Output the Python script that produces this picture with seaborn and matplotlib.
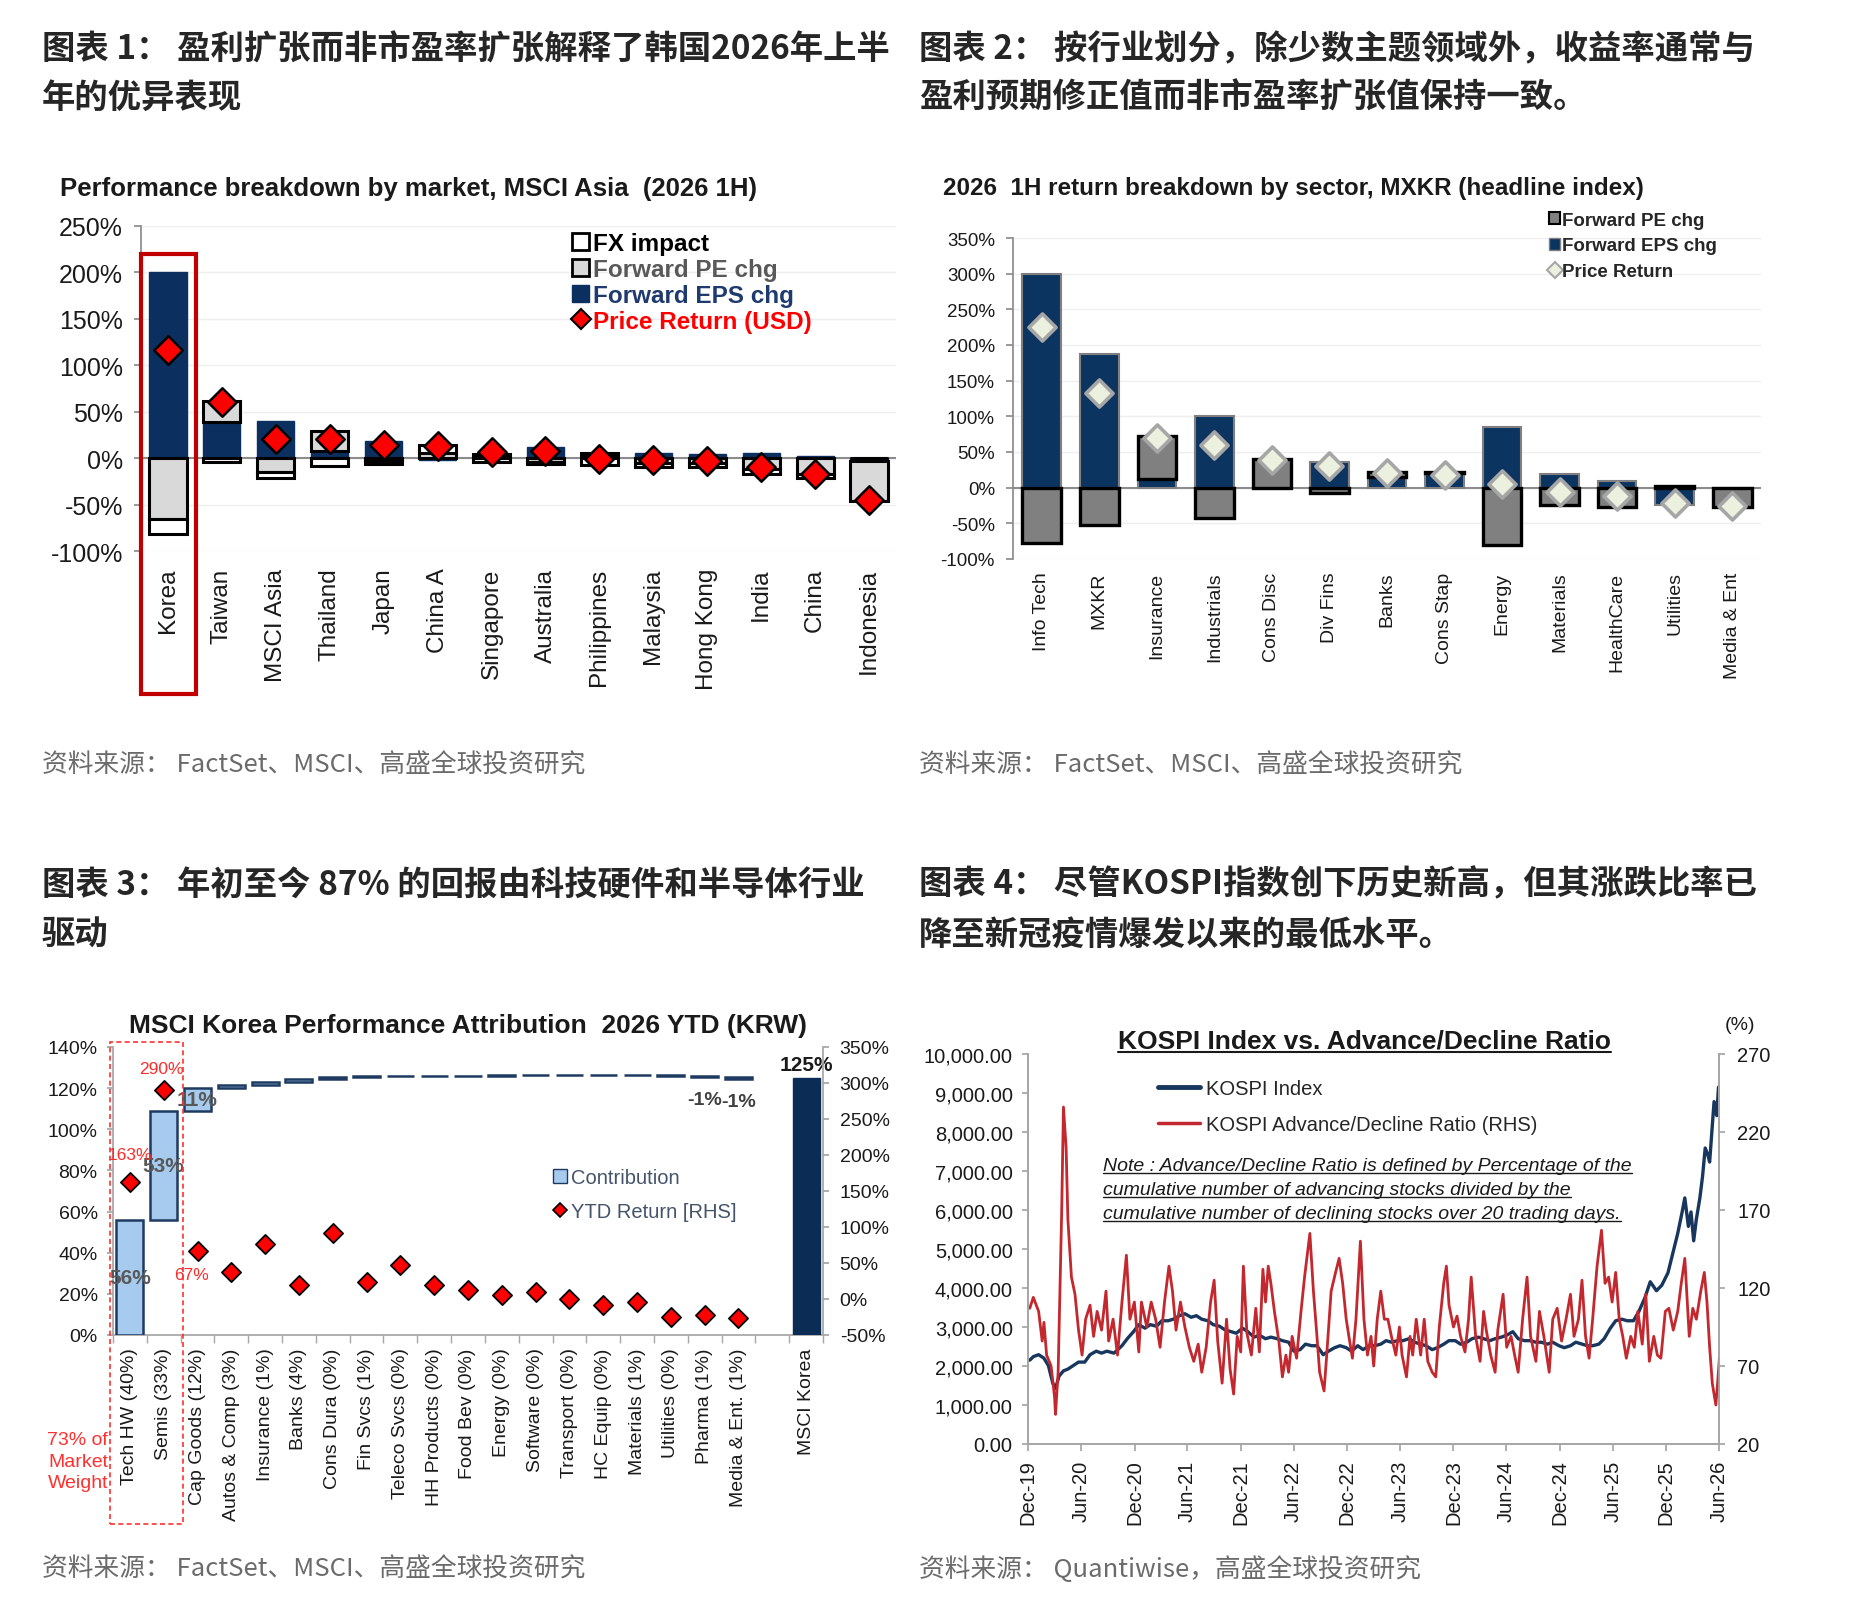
import numpy as np
import pandas as pd
import matplotlib
matplotlib.use('Agg')
import matplotlib.pyplot as plt
import matplotlib.dates as mdates
from matplotlib.patches import Rectangle, Patch
from matplotlib.lines import Line2D
import seaborn as sns

# ---------- chart 1: MSCI Asia, performance breakdown by market ----------
markets = ['Korea', 'Taiwan', 'MSCI Asia', 'Thailand', 'Japan', 'China A', 'Singapore',
           'Australia', 'Philippines', 'Malaysia', 'Hong Kong', 'India', 'China', 'Indonesia']
mkt_eps = [200, 39, 40, 8, 19, -2, 3, 12, 3, 6, 4, 6, 2, -3]
mkt_pe = [-65, 23, -15, 21, -3, 6, 2, -4, 3, -5, -5, -12, -17, -43]
mkt_fx = [-17, -4, -6, -8, -3, 8, -4, -2, -7, -4, -4, -5, -4, 0]
mkt_price = [116, 61, 21, 21, 14, 13, 7, 8, -1, -2, -3, -10, -17, -45]

# ---------- chart 2: MXKR return breakdown by sector ----------
sectors = ['Info Tech', 'MXKR', 'Insurance', 'Industrials', 'Cons Disc', 'Div Fins', 'Banks',
           'Cons Stap', 'Energy', 'Materials', 'HealthCare', 'Utilities', 'Media & Ent']
sec_eps = [300, 187, 12, 101, -2, 36, 15, 20, 85, 19, 10, -24, 0]
sec_pe = [-78, -52, 60, -43, 40, -8, 7, 2, -80, -24, -27, 3, -27]
sec_price = [225, 133, 70, 60, 39, 30, 20, 18, 5, -6, -12, -22, -26]

# ---------- chart 3: MSCI Korea attribution ----------
attr_sectors = ['Tech HW (40%)', 'Semis (33%)', 'Cap Goods (12%)', 'Autos & Comp (3%)',
                'Insurance (1%)', 'Banks (4%)', 'Cons Dura (0%)', 'Fin Svcs (1%)',
                'Teleco Svcs (0%)', 'HH Products (0%)', 'Food Bev (0%)', 'Energy (0%)',
                'Software (0%)', 'Transport (0%)', 'HC Equip (0%)', 'Materials (1%)',
                'Utilities (0%)', 'Pharma (1%)', 'Media & Ent. (1%)']
contribution = [56, 53, 11, 1.6, 1.3, 1.5, 0.9, 0.6, 0.1, 0.1, 0.0, 0.1, 0.4, 0.0, 0.0, 0.0,
                -0.6, -0.8, -0.6]
contribution_labels = ['56%', '53%', '11%', '', '', '', '', '', '', '', '', '', '', '', '', '',
                       '', '-1%', '-1%']
ytd_return = [163, 290, 67, 37, 77, 19, 91, 24, 47, 20, 13, 5, 10, 0, -8, -4, -25, -22, -27]
ytd_labels = ['163%', '290%', '67%']
msci_korea_total = 125

# ---------- chart 4: KOSPI vs advance/decline ratio (months after 31 Dec 2019) ----------
kospi_months = [0.2, 0.6, 1.2, 1.8, 2.3, 2.8, 3.1, 3.5, 4.0, 4.5, 5.1, 5.7, 6.4, 7.0, 7.7, 8.3,
                8.9, 9.7, 10.6, 11.2, 11.9, 12.5, 13.2, 13.8, 14.5, 15.1, 15.8, 16.4, 17.1, 17.7,
                18.4, 19.0, 19.6, 20.3, 20.9, 21.6, 22.2, 22.9, 23.5, 24.2, 24.8, 25.5, 26.1,
                26.8, 27.4, 28.1, 28.7, 29.4, 30.0, 30.7, 31.3, 32.0, 32.6, 33.3, 33.9, 34.6,
                35.2, 35.9, 36.5, 37.2, 37.8, 38.5, 39.1, 39.8, 40.4, 41.0, 41.7, 42.3, 43.0,
                43.6, 44.3, 44.9, 45.6, 46.2, 46.9, 47.5, 48.2, 48.8, 49.5, 50.1, 50.8, 51.4,
                52.1, 52.7, 53.4, 54.0, 54.7, 55.3, 56.0, 56.6, 57.3, 57.9, 58.6, 59.2, 59.9,
                60.5, 61.2, 61.8, 62.5, 63.1, 63.7, 64.4, 65.0, 65.7, 66.3, 67.0, 67.6, 68.3,
                68.9, 69.6, 70.2, 70.9, 71.5, 72.2, 72.8, 73.3, 73.8, 74.1, 74.5, 74.8, 75.1,
                75.4, 75.8, 76.1, 76.4, 76.7, 76.9, 77.2, 77.4, 77.7, 77.9]
kospi_index = [2150, 2240, 2290, 2200, 2010, 1555, 1420, 1740, 1875, 1920, 2010, 2100, 2100,
               2290, 2380, 2330, 2380, 2330, 2520, 2700, 2880, 3060, 2970, 3060, 3020, 3160,
               3160, 3200, 3290, 3340, 3250, 3290, 3200, 3160, 3060, 3020, 2930, 2880, 2840,
               2970, 2880, 2740, 2790, 2700, 2740, 2700, 2650, 2610, 2380, 2420, 2560, 2520,
               2520, 2290, 2380, 2470, 2520, 2470, 2380, 2520, 2420, 2520, 2520, 2560, 2650,
               2610, 2650, 2650, 2700, 2610, 2560, 2520, 2420, 2470, 2560, 2650, 2650, 2560,
               2610, 2700, 2740, 2700, 2650, 2700, 2740, 2790, 2880, 2700, 2650, 2650, 2610,
               2610, 2560, 2610, 2520, 2470, 2520, 2610, 2560, 2520, 2520, 2560, 2700, 2970,
               3160, 3200, 3160, 3160, 3390, 3750, 4160, 3930, 4070, 4390, 4940, 5400, 5950,
               6310, 5580, 5950, 5210, 5760, 6310, 6860, 7590, 7410, 7230, 8140, 8780, 8420,
               9150]
ad_months = [0.2, 0.6, 1.2, 1.6, 1.8, 2.1, 2.6, 3.0, 3.1, 3.4, 3.8, 4.0, 4.3, 4.5, 4.9, 5.3,
             5.7, 6.1, 6.5, 7.0, 7.4, 7.8, 8.3, 8.8, 9.1, 9.6, 10.1, 10.6, 11.1, 11.5, 12.0,
             12.5, 12.8, 13.4, 13.9, 14.4, 14.9, 15.4, 15.9, 16.3, 16.7, 17.2, 17.7, 18.2,
             18.7, 19.2, 19.6, 20.1, 20.6, 21.0, 21.4, 21.9, 22.4, 22.8, 23.2, 23.6, 24.0,
             24.3, 24.7, 25.2, 25.7, 26.1, 26.5, 26.8, 27.1, 27.4, 27.8, 28.3, 28.7, 29.1,
             29.4, 29.8, 30.3, 30.8, 31.2, 31.8, 32.2, 32.6, 32.9, 33.4, 33.7, 34.2, 34.7,
             35.1, 35.5, 35.9, 36.2, 36.6, 37.0, 37.5, 37.9, 38.3, 38.7, 39.0, 39.4, 39.8,
             40.2, 40.6, 41.0, 41.5, 41.9, 42.2, 42.7, 43.1, 43.4, 43.8, 44.3, 44.7, 45.1,
             45.6, 46.0, 46.4, 46.9, 47.2, 47.5, 48.0, 48.4, 48.8, 49.3, 49.7, 50.0, 50.5,
             51.0, 51.4, 51.7, 52.2, 52.7, 53.0, 53.6, 54.0, 54.5, 54.9, 55.3, 55.8, 56.3,
             56.7, 57.3, 57.7, 58.2, 58.8, 59.2, 59.7, 60.2, 60.7, 61.2, 61.6, 62.1, 62.5,
             62.9, 63.3, 63.7, 64.2, 64.7, 65.1, 65.5, 65.9, 66.3, 66.7, 67.1, 67.5, 68.0,
             68.4, 68.8, 69.3, 69.7, 70.1, 70.6, 71.0, 71.4, 71.9, 72.3, 72.8, 73.3, 73.7,
             74.1, 74.6, 75.0, 75.4, 75.9, 76.3, 76.6, 76.9, 77.2, 77.6, 77.8, 78.0]
ad_ratio = [107, 114, 105, 86, 98, 77, 70, 50, 39, 66, 169, 236, 210, 164, 127, 116, 93, 77,
            100, 109, 89, 105, 93, 118, 86, 100, 77, 111, 141, 100, 111, 79, 111, 95, 111, 100,
            82, 111, 134, 118, 93, 111, 95, 82, 73, 84, 66, 82, 111, 125, 86, 59, 100, 68, 52,
            89, 79, 134, 91, 77, 107, 79, 132, 111, 134, 123, 105, 86, 63, 77, 66, 89, 75, 105,
            127, 155, 118, 89, 66, 54, 77, 118, 130, 139, 123, 100, 89, 75, 100, 150, 100, 77,
            89, 70, 100, 118, 100, 100, 89, 77, 95, 77, 63, 89, 77, 100, 77, 100, 73, 66, 63,
            95, 123, 134, 109, 95, 102, 89, 79, 100, 127, 89, 73, 105, 93, 77, 66, 93, 116, 82,
            89, 77, 66, 100, 127, 89, 73, 105, 89, 66, 100, 107, 86, 100, 116, 89, 100, 125, 89,
            75, 100, 134, 157, 123, 127, 111, 130, 100, 89, 75, 89, 82, 105, 84, 116, 73, 89,
            77, 75, 105, 107, 93, 105, 123, 139, 89, 107, 100, 118, 130, 111, 82, 59, 45, 59,
            75]

headings = [
    (42, 50, '图表 1： 盈利扩张而非市盈率扩张解释了韩国2026年上半'),
    (42, 98, '年的优异表现'),
    (919, 50, '图表 2： 按行业划分，除少数主题领域外，收益率通常与'),
    (919, 98, '盈利预期修正值而非市盈率扩张值保持一致。'),
    (42, 885, '图表 3： 年初至今 87% 的回报由科技硬件和半导体行业'),
    (42, 935, '驱动'),
    (919, 885, '图表 4： 尽管KOSPI指数创下历史新高，但其涨跌比率已'),
    (919, 935, '降至新冠疫情爆发以来的最低水平。'),
]
sources = [
    (42, 766, '资料来源： FactSet、MSCI、高盛全球投资研究'),
    (919, 766, '资料来源： FactSet、MSCI、高盛全球投资研究'),
    (42, 1570, '资料来源： FactSet、MSCI、高盛全球投资研究'),
    (919, 1570, '资料来源： Quantiwise，高盛全球投资研究'),
]

W, H = 1876, 1608
NAVY = '#0b2f5e'
sns.set_theme(style='white')
plt.rcParams['font.family'] = ['Liberation Sans', 'Noto Sans CJK SC', 'DejaVu Sans']
plt.rcParams['axes.unicode_minus'] = False
CJK = ['Noto Sans CJK SC', 'DejaVu Sans']

fig = plt.figure(figsize=(W / 100, H / 100), dpi=100)
fig.patch.set_facecolor('white')


def fx(x):
    return x / W


def fy(y):
    return 1 - y / H


def box(l, t, r, b):
    return [l / W, 1 - b / H, (r - l) / W, (b - t) / H]


def stacked(ax, x, series, styles, width):
    pos = np.zeros(len(x))
    neg = np.zeros(len(x))
    for vals, st in zip(series, styles):
        v = np.asarray(vals, float)
        ax.bar(x, v, width, bottom=np.where(v >= 0, pos, neg), **st)
        pos = pos + np.clip(v, 0, None)
        neg = neg + np.clip(v, None, 0)


def pct(v, p):
    return f'{v:.0f}%'


for x, y, s in headings:
    fig.text(fx(x), fy(y), s, fontsize=24, fontweight='bold', family=CJK, color='#262626',
             ha='left', va='center')
for x, y, s in sources:
    fig.text(fx(x), fy(y), s, fontsize=18.5, family=CJK, color='#6b6b6b', ha='left',
             va='center')

# ---------------- chart 1 ----------------
ax1 = fig.add_axes(box(141, 227, 896, 552))
x1 = np.arange(len(markets))
stacked(ax1, x1, [mkt_eps, mkt_pe, mkt_fx],
        [dict(color=NAVY, edgecolor=NAVY, lw=1, zorder=3),
         dict(color='#d9d9d9', edgecolor='black', lw=2.2, zorder=3),
         dict(color='white', edgecolor='black', lw=2.2, zorder=3)], 0.69)
sns.scatterplot(x=x1, y=mkt_price, ax=ax1, marker='D', s=210, color='#ff0000',
                edgecolor='black', linewidth=1.8, zorder=5, legend=False)
ax1.set_xlim(-0.5, len(markets) - 0.5)
ax1.set_ylim(-100, 250)
ax1.set_yticks(range(-100, 251, 50))
ax1.yaxis.set_major_formatter(pct)
ax1.set_xticks(x1)
ax1.set_xticklabels(markets, rotation=90, fontsize=17.5, color='#1a1a1a')
ax1.tick_params(axis='x', length=0, pad=12)
ax1.tick_params(axis='y', labelsize=18, labelcolor='#1a1a1a', left=True, length=5,
                color='#8c8c8c', pad=8)
ax1.grid(axis='y', color='#efefef', lw=1)
ax1.set_axisbelow(True)
for s in ['top', 'right', 'bottom']:
    ax1.spines[s].set_visible(False)
ax1.spines['left'].set_color('#8c8c8c')
ax1.axhline(0, color='#8c8c8c', lw=1.5, zorder=2)
ax1.set_ylabel('')
fig.text(fx(60), fy(189), 'Performance breakdown by market, MSCI Asia  (2026 1H)',
         fontsize=18.5, fontweight='bold', color='#1a1a1a', ha='left', va='center')
fig.add_artist(Rectangle((fx(141), fy(695)), (196 - 141) / W, (695 - 255) / H,
                         transform=fig.transFigure, fill=False, edgecolor='#c00000', lw=3))
h1 = [Patch(facecolor='white', edgecolor='black', lw=2),
      Patch(facecolor='#d9d9d9', edgecolor='black', lw=2),
      Patch(facecolor=NAVY, edgecolor=NAVY),
      Line2D([], [], marker='D', ls='none', mfc='#ff0000', mec='black', ms=10, mew=1.5)]
leg1 = ax1.legend(h1, ['FX impact', 'Forward PE chg', 'Forward EPS chg', 'Price Return (USD)'],
                  loc='upper left', bbox_to_anchor=(fx(572), fy(233)),
                  bbox_transform=fig.transFigure, frameon=False,
                  prop={'weight': 'bold', 'size': 17.5}, handlelength=0.7, handleheight=0.7,
                  handletextpad=0.15, labelspacing=0.12, borderpad=0, borderaxespad=0)
for t, c in zip(leg1.get_texts(), ['black', '#595959', '#1f3a6e', '#ff0000']):
    t.set_color(c)

# ---------------- chart 2 ----------------
ax2 = fig.add_axes(box(1013, 239, 1761, 560))
x2 = np.arange(len(sectors))
stacked(ax2, x2, [sec_eps, sec_pe],
        [dict(color='#0c3461', edgecolor='#808080', lw=1.5, zorder=3),
         dict(color='#808080', edgecolor='black', lw=2.4, zorder=3)], 0.67)
sns.scatterplot(x=x2, y=sec_price, ax=ax2, marker='D', s=190, color='#ebf1de',
                edgecolor='#a6a6a6', linewidth=2.6, zorder=5, legend=False)
ax2.set_xlim(-0.5, len(sectors) - 0.5)
ax2.set_ylim(-100, 350)
ax2.set_yticks(range(-100, 351, 50))
ax2.yaxis.set_major_formatter(pct)
ax2.set_xticks(x2)
ax2.set_xticklabels(sectors, rotation=90, fontsize=14, color='#1a1a1a')
ax2.tick_params(axis='x', length=0, pad=9)
ax2.tick_params(axis='y', labelsize=13.5, labelcolor='#1a1a1a', left=True, length=5,
                color='#8c8c8c', pad=8)
ax2.grid(axis='y', color='#efefef', lw=1)
ax2.set_axisbelow(True)
for s in ['top', 'right', 'bottom']:
    ax2.spines[s].set_visible(False)
ax2.spines['left'].set_color('#8c8c8c')
ax2.axhline(0, color='#8c8c8c', lw=1.5, zorder=2)
fig.text(fx(943), fy(189), '2026  1H return breakdown by sector, MXKR (headline index)',
         fontsize=17.5, fontweight='bold', color='#1a1a1a', ha='left', va='center')
h2 = [Patch(facecolor='#808080', edgecolor='black', lw=1.5),
      Patch(facecolor='#0c3461', edgecolor='#808080'),
      Line2D([], [], marker='D', ls='none', mfc='#ebf1de', mec='#a6a6a6', ms=8, mew=1.5)]
ax2.legend(h2, ['Forward PE chg', 'Forward EPS chg', 'Price Return'], loc='upper left',
           bbox_to_anchor=(fx(1549), fy(213)), bbox_transform=fig.transFigure, frameon=False,
           prop={'weight': 'bold', 'size': 13.5}, handlelength=0.6, handleheight=0.6,
           handletextpad=0.1, labelspacing=0.45, borderpad=0, borderaxespad=0)

# ---------------- chart 3 ----------------
LIGHT = '#a7cbee'
EDGE3 = '#1f3a60'
ax3 = fig.add_axes(box(113, 1048, 823, 1336))
n3 = len(attr_sectors)
x3 = np.arange(n3)
cum = np.cumsum(contribution)
bottoms = cum - np.asarray(contribution)
ax3.bar(x3, contribution, 0.8, bottom=bottoms, color=LIGHT, edgecolor=EDGE3, lw=1.8, zorder=3)
ax3.bar([n3 + 1], [msci_korea_total], 0.8, color='#0b2d55', edgecolor='#0b2d55', zorder=3)
for i, lab in enumerate(contribution_labels):
    if not lab:
        continue
    c = contribution[i]
    if abs(c) >= 5:
        ax3.text(i, bottoms[i] + c / 2, lab, ha='center', va='center', fontsize=15,
                 fontweight='bold', color='#595959', zorder=6)
    else:
        ax3.annotate(lab, (i, min(bottoms[i], cum[i])), xytext=(0, -10),
                     textcoords='offset points', ha='center', va='top', fontsize=14,
                     fontweight='bold', color='#404040')
ax3.annotate(f'{msci_korea_total}%', (n3 + 1, msci_korea_total), xytext=(0, 3),
             textcoords='offset points', ha='center', va='bottom', fontsize=15,
             fontweight='bold', color='#1a1a1a')
ax3.set_xlim(-0.5, n3 + 1.5)
ax3.set_ylim(0, 140)
ax3.set_yticks(range(0, 141, 20))
ax3.yaxis.set_major_formatter(pct)
ax3.set_xticks(np.arange(n3 + 2))
ax3.set_xticklabels(attr_sectors + ['', 'MSCI Korea'], rotation=90, fontsize=14,
                    color='#1a1a1a')
ax3.set_xticks(np.arange(-0.5, n3 + 2, 1), minor=True)
ax3.tick_params(axis='x', which='major', length=0, pad=9)
ax3.tick_params(axis='x', which='minor', bottom=True, length=6, color='#a6a6a6')
ax3.tick_params(axis='y', labelsize=14, labelcolor='#1a1a1a', left=True, length=4,
                color='#a6a6a6', pad=7)
for s in ['top', 'right']:
    ax3.spines[s].set_visible(False)
for s in ['left', 'bottom']:
    ax3.spines[s].set_color('#a6a6a6')
ax3r = ax3.twinx()
sns.scatterplot(x=x3, y=ytd_return, ax=ax3r, marker='D', s=95, color='#ff0000',
                edgecolor='black', linewidth=1.3, zorder=5, legend=False)
ax3r.set_ylim(-50, 350)
ax3r.set_yticks(range(-50, 351, 50))
ax3r.yaxis.set_major_formatter(pct)
ax3r.set_ylabel('')
ax3r.tick_params(axis='y', labelsize=14, labelcolor='#1a1a1a', right=True, length=4,
                 color='#a6a6a6', pad=8)
for s in ['top', 'left', 'bottom']:
    ax3r.spines[s].set_visible(False)
ax3r.spines['right'].set_color('#a6a6a6')
for i, (lab, off) in enumerate(zip(ytd_labels, [(0, 14), (-2, 10), (-4, -12)])):
    ax3r.annotate(lab, (i, ytd_return[i]), xytext=off, textcoords='offset points',
                  ha='center', va='bottom' if off[1] > 0 else 'top', fontsize=12.5,
                  color='#ff2a2a')
fig.text(fx(468), fy(1026), 'MSCI Korea Performance Attribution  2026 YTD (KRW)',
         fontsize=19, fontweight='bold', color='#1a1a1a', ha='center', va='center')
fig.add_artist(Rectangle((fx(110), fy(1525)), (183 - 110) / W, (1525 - 1043) / H,
                         transform=fig.transFigure, fill=False, edgecolor='#ff3030', lw=1.2,
                         ls=(0, (3, 2))))
fig.text(fx(108), fy(1432), '73% of\nMarket\nWeight', fontsize=14, color='#ff3030',
         ha='right', va='top', linespacing=1.35)
h3 = [Patch(facecolor=LIGHT, edgecolor=EDGE3, lw=1),
      Line2D([], [], marker='D', ls='none', mfc='#ff0000', mec='black', ms=7, mew=1.2)]
leg3 = ax3r.legend(h3, ['Contribution', 'YTD Return [RHS]'], loc='upper left',
                   bbox_to_anchor=(fx(553), fy(1169)), bbox_transform=fig.transFigure,
                   frameon=False, fontsize=14.5, handlelength=0.7, handleheight=0.7,
                   handletextpad=0.2, labelspacing=0.75, borderpad=0, borderaxespad=0)
for t in leg3.get_texts():
    t.set_color('#44546a')

# ---------------- chart 4 ----------------
start = pd.Timestamp('2019-12-31')
kospi_dates = start + pd.to_timedelta(np.asarray(kospi_months) * 30.44, unit='D')
ad_dates = start + pd.to_timedelta(np.asarray(ad_months) * 30.44, unit='D')
ax4 = fig.add_axes(box(1028, 1055, 1719, 1445))
sns.lineplot(x=kospi_dates, y=kospi_index, ax=ax4, color='#17375e', lw=2.4)
ax4r = ax4.twinx()
sns.lineplot(x=ad_dates, y=ad_ratio, ax=ax4r, color='#c3282e', lw=2)
ax4.set_xlim(start, pd.Timestamp('2026-06-30'))
ax4.set_ylim(0, 10000)
ax4.set_yticks(range(0, 10001, 1000))
ax4.yaxis.set_major_formatter(lambda v, p: f'{v:,.2f}')
ax4r.set_ylim(20, 270)
ax4r.set_yticks(range(20, 271, 50))
ax4.set_xticks(pd.date_range('2019-12-31', '2026-06-30', freq='6ME'))
ax4.xaxis.set_major_formatter(mdates.DateFormatter('%b-%y'))
ax4.tick_params(axis='x', labelsize=14.5, labelrotation=90, labelcolor='#1a1a1a', bottom=True,
                length=5, color='#a6a6a6', pad=6)
ax4.tick_params(axis='y', labelsize=14.5, labelcolor='#1a1a1a', left=True, length=4,
                color='#a6a6a6', pad=7)
ax4r.tick_params(axis='y', labelsize=14.5, labelcolor='#1a1a1a', right=True, length=4,
                 color='#a6a6a6', pad=9)
ax4.set_xlabel('')
ax4.set_ylabel('')
ax4r.set_ylabel('')
for a in (ax4, ax4r):
    a.spines['top'].set_visible(False)
    for s in ['left', 'right', 'bottom']:
        a.spines[s].set_color('#a6a6a6')
ax4r.legend([Line2D([], [], color='#17375e', lw=3.5), Line2D([], [], color='#c3282e', lw=2.5)],
            ['KOSPI Index', 'KOSPI Advance/Decline Ratio (RHS)'], loc='upper left',
            bbox_to_anchor=(fx(1158), fy(1080)), bbox_transform=fig.transFigure, frameon=False,
            fontsize=14.5, handlelength=2.1, handletextpad=0.3, labelspacing=0.85, borderpad=0,
            borderaxespad=0)
fig.text(fx(1740), fy(1026), '(%)', fontsize=14, color='#1a1a1a', ha='center', va='center')
under = []
under.append(fig.text(fx(1364), fy(1042), 'KOSPI Index vs. Advance/Decline Ratio', fontsize=19,
                      fontweight='bold', color='#1a1a1a', ha='center', va='center'))
note_lines = ['Note : Advance/Decline Ratio is defined by Percentage of the',
              'cumulative number of advancing stocks divided by the',
              'cumulative number of declining stocks over 20 trading days.']
for k, line in enumerate(note_lines):
    under.append(fig.text(fx(1103), fy(1167 + 24 * k), line, fontsize=14, style='italic',
                          color='#1a1a1a', ha='left', va='center'))

fig.canvas.draw()
renderer = fig.canvas.get_renderer()
inv = fig.transFigure.inverted()
for t in under:
    bb = t.get_window_extent(renderer)
    y = bb.y0 + 0.06 * bb.height
    (x0, y0), (x1_, _) = inv.transform([(bb.x0, y), (bb.x1, y)])
    fig.add_artist(Line2D([x0, x1_], [y0, y0], transform=fig.transFigure, color='#1a1a1a',
                          lw=1.5 if t.get_fontsize() > 15 else 1))

fig.savefig('out.png', dpi=100, facecolor='white')
